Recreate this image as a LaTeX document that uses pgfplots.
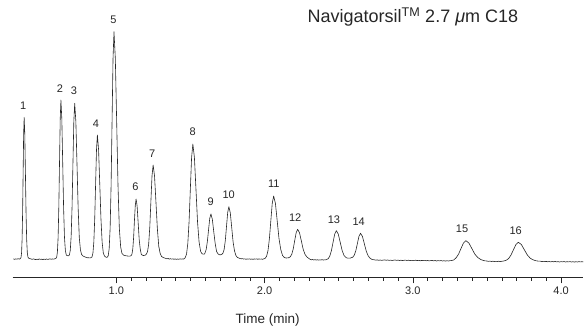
\documentclass[border=0pt]{standalone}
\usepackage{fontspec}
\setmainfont{Liberation Sans}
\usepackage{pgfplots}
\pgfplotsset{compat=1.18}
\begin{document}
\begin{tikzpicture}
\begin{axis}[
  scale only axis, width=570.7pt, height=272pt,
  xmin=0.3, xmax=4.15, ymin=-18, ymax=254,
  axis x line=bottom, axis y line=none,
  x axis line style={-, line width=0.5pt, black!85},
  xtick={1,2,3,4}, xticklabels={1.0,2.0,3.0,4.0},
  minor x tick num=9,
  tick align=outside, major tick length=6.5pt, minor tick length=4pt,
  every tick/.style={black!85, line width=0.5pt},
  xticklabel style={font=\fontsize{11}{13}\selectfont, text=black!85},
  /pgf/number format/assume math mode=true,
  clip=false,
]
\coordinate (bl) at (rel axis cs:0,0);
\addplot[black!85, line width=0.6pt, line join=round, mark=none] coordinates {
(0.305,0.2)(0.313,-0.3)(0.321,0.1)(0.329,-0.2)(0.337,0.3)(0.345,-0.1)(0.351,0.2)
(0.357,1.6)(0.3605,6.2)(0.364,19.2)(0.3675,46.0)(0.371,85.9)(0.3745,125.1)(0.378,141.7)(0.38225,125.1)(0.3865,85.9)(0.39075,46.0)(0.395,19.2)(0.39925,6.2)(0.4035,1.8)
(0.409,0.8)(0.416,0.4)(0.424,0.1)(0.432,-0.4)(0.440,0.2)(0.448,-0.3)(0.456,-0.6)(0.464,-0.2)(0.472,-0.5)(0.480,0.1)(0.488,-0.4)(0.496,-0.2)(0.504,-0.6)(0.512,-0.1)(0.520,-0.5)(0.528,0.0)(0.536,-0.4)(0.544,-0.2)(0.552,0.2)(0.560,-0.3)(0.568,0.1)(0.576,-0.2)(0.584,0.2)(0.591,0.4)
(0.5975,1.8)(0.60225,7.0)(0.607,21.5)(0.61175,51.6)(0.6165,96.4)(0.62125,140.3)(0.626,159)(0.632,140.3)(0.638,96.4)(0.644,51.6)(0.650,21.5)(0.656,8.5)(0.662,4.0)(0.668,3.4)(0.676,3.1)
(0.683,4.0)(0.689,8.5)(0.695,22.6)(0.701,51.6)(0.707,95.0)(0.713,137.4)(0.719,155.7)(0.72675,137.4)(0.7345,94.4)(0.74225,50.6)(0.750,21.1)(0.75775,9.0)(0.7655,4.5)(0.775,3.0)(0.785,2.3)(0.795,1.7)(0.805,1.3)(0.815,1.2)(0.823,1.1)(0.830,1.4)
(0.836,2.2)(0.842,6.0)(0.848,17.1)(0.854,40.3)(0.860,75.2)(0.866,109.4)(0.872,124)(0.880,109.4)(0.888,75.2)(0.896,40.3)(0.904,16.8)(0.912,6.0)(0.920,2.9)(0.928,2.0)(0.934,1.6)
(0.939,1.9)(0.945,3.2)(0.9515,10.4)(0.958,31.0)(0.9645,73.9)(0.971,137.9)(0.9775,200.6)(0.984,227.3)(0.993,200.6)(1.002,137.9)(1.011,73.8)(1.020,30.8)(1.029,12.0)(1.038,5.5)(1.050,3.8)(1.065,3.2)(1.080,2.9)(1.090,2.8)
(1.100,3.4)(1.1055,5.0)(1.111,10.4)(1.1165,21.7)(1.122,38.6)(1.1275,53.2)(1.133,60)(1.140,53.0)(1.147,36.4)(1.154,19.5)(1.161,10.1)(1.168,4.8)(1.175,3.8)(1.182,3.5)(1.190,3.6)(1.197,4.1)
(1.203,5.0)(1.2105,7.5)(1.218,15.0)(1.2255,32.0)(1.233,57.8)(1.2405,83.2)(1.248,94)(1.2575,83.0)(1.267,57.0)(1.2765,30.5)(1.286,12.7)(1.2955,5.6)(1.305,2.5)(1.315,1.6)(1.325,1.0)(1.333,0.6)(1.341,0.2)(1.349,0.5)(1.357,-0.1)(1.365,0.3)(1.373,-0.2)(1.381,0.2)(1.389,-0.3)(1.397,0.1)(1.405,-0.4)(1.413,0.0)(1.421,-0.3)(1.429,0.2)(1.437,-0.2)(1.445,0.1)(1.453,-0.1)(1.459,0.4)
(1.465,1.5)(1.4735,5.0)(1.482,15.6)(1.4905,37.3)(1.499,69.7)(1.5075,101.5)(1.516,115)(1.5265,101.5)(1.537,69.7)(1.5475,37.3)(1.558,17.0)(1.5685,7.5)(1.578,5.3)(1.586,4.8)(1.594,5.0)
(1.598,6.0)(1.606,9.6)(1.614,17.6)(1.622,29.3)(1.630,40.7)(1.638,45)(1.6475,39.7)(1.657,27.3)(1.6665,15.6)(1.676,7.6)(1.685,5.2)(1.695,4.3)(1.703,4.2)(1.711,4.6)
(1.719,5.8)(1.727,9.5)(1.735,18.5)(1.743,32.5)(1.751,46.5)(1.759,52.3)(1.7685,46.2)(1.778,31.7)(1.7875,17.0)(1.797,8.1)(1.8065,3.5)(1.816,1.6)(1.826,1.0)(1.834,0.5)(1.842,0.2)(1.850,0.4)(1.858,-0.1)(1.866,0.2)(1.874,-0.3)(1.882,0.1)(1.890,-0.2)(1.898,0.2)(1.906,-0.3)(1.914,0.0)(1.922,-0.4)(1.930,0.1)(1.938,-0.2)(1.946,0.2)(1.954,-0.3)(1.962,0.1)(1.970,-0.2)(1.978,0.0)(1.986,-0.3)(1.994,0.1)
(2.004,0.7)(2.0135,2.8)(2.023,8.5)(2.0325,20.5)(2.042,38.2)(2.0515,55.6)(2.061,63)(2.073,55.6)(2.085,38.2)(2.097,20.5)(2.109,9.5)(2.121,3.5)(2.133,1.5)(2.145,1.0)(2.155,1.1)(2.163,1.3)
(2.173,2.2)(2.183,4.6)(2.193,10.0)(2.203,18.3)(2.213,26.3)(2.223,29.7)(2.2355,26.2)(2.248,18.0)(2.2605,9.6)(2.273,4.5)(2.2855,2.0)(2.298,0.6)(2.308,-0.4)(2.316,-0.8)(2.324,-0.5)(2.332,-1.0)(2.340,-0.6)(2.348,-1.1)(2.356,-0.7)(2.364,-1.2)(2.372,-0.8)(2.380,-1.0)(2.388,-0.6)(2.396,-1.1)(2.404,-0.8)(2.411,-0.9)
(2.418,-0.5)(2.429,0.3)(2.440,3.0)(2.451,8.5)(2.462,16.8)(2.473,24.9)(2.484,28.3)(2.497,24.9)(2.510,16.8)(2.523,8.5)(2.536,3.5)(2.549,1.5)(2.560,0.8)(2.570,0.8)(2.580,1.0)
(2.5945,1.8)(2.605,3.8)(2.6155,8.3)(2.626,15.5)(2.6365,22.7)(2.647,25.7)(2.660,22.6)(2.673,15.2)(2.686,7.7)(2.699,3.1)(2.712,0.7)(2.725,-0.5)
(2.740,-0.8)(2.750,-1.2)(2.760,-0.9)(2.770,-1.3)(2.780,-1.0)(2.790,-1.4)(2.800,-1.1)(2.810,-0.9)(2.820,-1.3)(2.830,-1.0)(2.840,-1.4)(2.850,-1.1)(2.860,-1.5)(2.870,-1.2)(2.880,-1.0)(2.890,-1.4)(2.900,-1.1)(2.910,-1.5)(2.920,-1.2)(2.930,-1.6)(2.940,-1.3)(2.950,-1.1)(2.960,-1.5)(2.970,-1.2)(2.980,-1.6)(2.990,-1.3)(3.000,-1.7)(3.010,-1.4)(3.020,-1.2)(3.030,-1.6)(3.040,-1.3)(3.050,-1.8)(3.060,-1.4)(3.070,-1.7)(3.080,-1.3)(3.090,-1.8)(3.100,-1.5)(3.110,-1.9)(3.120,-1.6)(3.130,-1.4)(3.140,-1.9)(3.150,-1.5)(3.160,-2.0)(3.170,-1.6)(3.180,-1.9)(3.190,-1.5)(3.200,-2.0)(3.210,-1.7)(3.220,-2.1)(3.230,-1.7)(3.240,-2.0)(3.250,-1.7)
(3.259,-1.6)(3.2755,-1.0)(3.292,1.2)(3.3085,4.9)(3.325,10.5)(3.3415,16.0)(3.358,18.3)(3.378,16.0)(3.398,10.5)(3.418,4.9)(3.438,1.5)(3.458,-0.5)(3.478,-1.6)(3.490,-1.9)
(3.500,-2.0)(3.510,-2.4)(3.520,-2.1)(3.530,-2.5)(3.540,-2.2)(3.550,-2.6)(3.560,-2.3)(3.570,-2.5)(3.580,-2.2)(3.590,-2.6)(3.600,-2.3)
(3.613,-2.0)(3.6295,-1.3)(3.646,0.4)(3.6625,4.1)(3.679,9.3)(3.6955,14.5)(3.712,16.7)(3.732,14.5)(3.752,9.3)(3.772,4.1)(3.792,0.8)(3.812,-0.9)(3.832,-1.8)(3.846,-2.1)
(3.860,-2.2)(3.870,-2.6)(3.880,-2.3)(3.890,-2.7)(3.900,-2.4)(3.910,-2.8)(3.920,-2.5)(3.930,-2.9)(3.940,-2.5)(3.950,-2.8)(3.960,-2.4)(3.970,-2.9)(3.980,-2.6)(3.990,-3.0)(4.000,-2.6)(4.010,-2.9)(4.020,-2.5)(4.030,-3.0)(4.040,-2.7)(4.050,-2.9)(4.060,-2.6)(4.070,-3.0)(4.080,-2.7)(4.090,-3.1)(4.100,-2.7)(4.110,-3.0)(4.120,-2.6)(4.130,-2.9)(4.140,-2.7)(4.150,-2.9)
};
\begin{scope}[every node/.style={font=\fontsize{11}{13}\selectfont, text=black!85, inner sep=0pt}]
\node at (axis cs:0.372,153) {1};
\node at (axis cs:0.620,170.7) {2};
\node at (axis cs:0.714,168) {3};
\node at (axis cs:0.863,135) {4};
\node at (axis cs:0.980,239) {5};
\node at (axis cs:1.128,72.3) {6};
\node at (axis cs:1.241,105.7) {7};
\node at (axis cs:1.515,127.3) {8};
\node at (axis cs:1.637,57.3) {9};
\node at (axis cs:1.758,64.7) {10};
\node at (axis cs:2.062,75) {11};
\node at (axis cs:2.206,41.3) {12};
\node at (axis cs:2.468,39) {13};
\node at (axis cs:2.635,37.3) {14};
\node at (axis cs:3.332,30) {15};
\node at (axis cs:3.694,28.3) {16};
\end{scope}
\node[font=\fontsize{13.5}{15}\selectfont, text=black!85, inner sep=0pt] at (axis cs:2.02,-61) {Time (min)};
\node[font=\fontsize{18}{20}\selectfont, text=black!85, inner sep=0pt] at (axis cs:3.0,242.3) {Navigatorsil\textsuperscript{TM} 2.7 {\itshape μ}m C18};
\end{axis}
\pgfresetboundingbox
\path (bl) ++(-12.6pt,-49pt) rectangle ++(584pt,326pt);
\end{tikzpicture}
\end{document}
